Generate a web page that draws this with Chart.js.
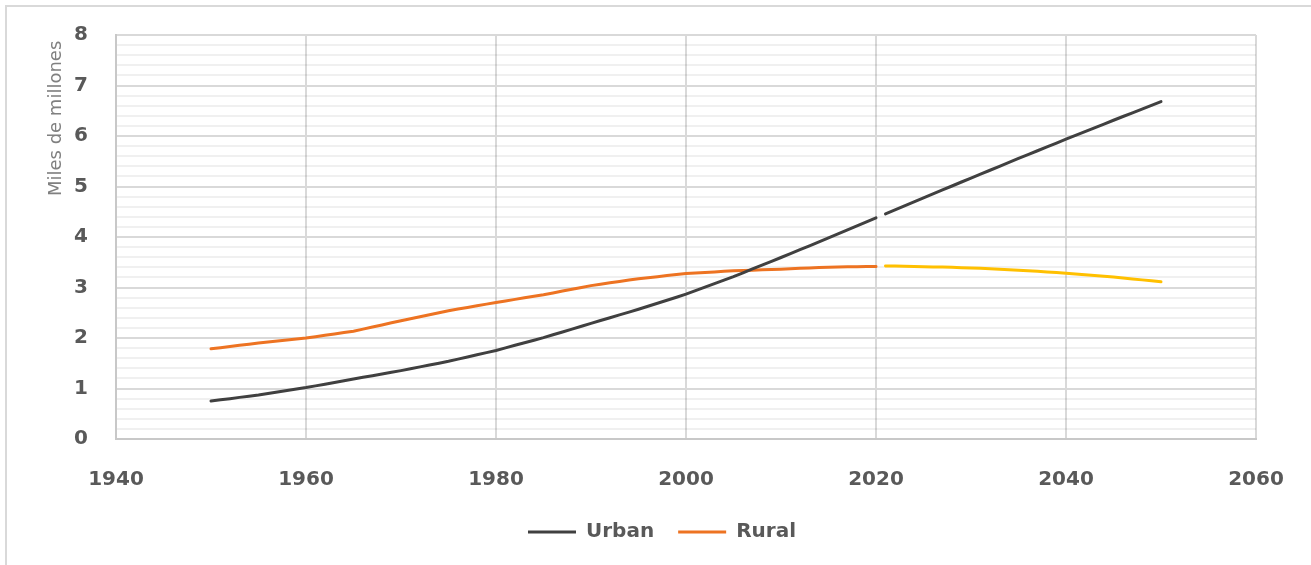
<!DOCTYPE html>
<html>
<head>
<meta charset="utf-8">
<script src="https://cdn.jsdelivr.net/npm/chart.js@4/dist/chart.umd.min.js"></script>
<style>
  body { margin: 0; background: #fff; }
  #wrap { position: relative; width: 1311px; height: 565px; overflow: hidden; }
  #frame { position: absolute; left: 5px; top: 5px; width: 1310px; height: 600px;
           border: 2px solid #d9d9d9; box-sizing: border-box; pointer-events: none; }
</style>
</head>
<body>
<div id="wrap">
  <canvas id="chart" width="1311" height="565"></canvas>
  <div id="frame"></div>
</div>
<script>
// ─── DATA (miles de millones) ──────────────────────────────
const histYears = [
  1950,1951,1952,1953,1954,1955,1956,1957,1958,1959,
  1960,1961,1962,1963,1964,1965,1966,1967,1968,1969,
  1970,1971,1972,1973,1974,1975,1976,1977,1978,1979,
  1980,1981,1982,1983,1984,1985,1986,1987,1988,1989,
  1990,1991,1992,1993,1994,1995,1996,1997,1998,1999,
  2000,2001,2002,2003,2004,2005,2006,2007,2008,2009,
  2010,2011,2012,2013,2014,2015,2016,2017,2018,2019,
  2020
];
const projYears = [
  2021,2022,2023,2024,2025,2026,2027,2028,2029,2030,
  2031,2032,2033,2034,2035,2036,2037,2038,2039,2040,
  2041,2042,2043,2044,2045,2046,2047,2048,2049,2050
];
const urbanHist = [
  0.751,0.775,0.799,0.824,0.848,0.872,0.901,0.930,0.959,0.989,
  1.018,1.052,1.086,1.120,1.154,1.188,1.221,1.254,1.287,1.320,
  1.354,1.391,1.428,1.465,1.501,1.538,1.581,1.624,1.667,1.711,
  1.754,1.805,1.855,1.906,1.956,2.007,2.064,2.120,2.177,2.233,
  2.290,2.346,2.402,2.457,2.513,2.569,2.629,2.689,2.748,2.808,
  2.868,2.937,3.007,3.076,3.146,3.215,3.291,3.367,3.442,3.518,
  3.594,3.671,3.749,3.826,3.904,3.981,4.061,4.140,4.220,4.300,
  4.379
];
const urbanProj = [
  4.458,4.537,4.616,4.695,4.774,4.853,4.932,5.010,5.089,5.167,
  5.245,5.322,5.400,5.477,5.555,5.632,5.708,5.785,5.861,5.938,
  6.013,6.088,6.162,6.237,6.312,6.386,6.459,6.533,6.606,6.680
];
const ruralHist = [
  1.785,1.808,1.831,1.855,1.878,1.901,1.921,1.940,1.960,1.979,
  1.999,2.026,2.053,2.080,2.107,2.134,2.176,2.218,2.259,2.301,
  2.343,2.383,2.422,2.462,2.501,2.541,2.574,2.606,2.639,2.671,
  2.704,2.734,2.765,2.795,2.826,2.856,2.892,2.929,2.965,3.001,
  3.037,3.065,3.092,3.120,3.147,3.175,3.195,3.215,3.236,3.256,
  3.276,3.287,3.298,3.309,3.320,3.331,3.337,3.344,3.350,3.357,
  3.363,3.371,3.379,3.386,3.394,3.402,3.406,3.410,3.413,3.415,
  3.416
];
const ruralProj = [
  3.428,3.424,3.420,3.416,3.412,3.408,3.404,3.399,3.393,3.387,
  3.379,3.371,3.362,3.353,3.343,3.332,3.321,3.309,3.296,3.283,
  3.269,3.254,3.239,3.223,3.206,3.188,3.170,3.151,3.132,3.112
];

const TEXT  = '#595959';
const FONT  = "'DejaVu Sans', sans-serif";
const pts   = (xs, ys) => xs.map((x, i) => ({ x, y: ys[i] }));
const isInt = v => Math.abs(v - Math.round(v)) < 1e-6;

// legend sits a bit right of the canvas centre in the original
const legendShift = {
  id: 'legendShift',
  afterInit(chart) {
    const lg = chart.legend;
    if (!lg) return;
    const draw = lg.draw.bind(lg);
    lg.draw = area => {
      chart.ctx.save();
      chart.ctx.translate(11, 0);
      draw(area);
      chart.ctx.restore();
    };
  },
};

// ─── CHART ─────────────────────────────────────────────────
// invisible tick marks keep the label gap without padding the plot edges
new Chart(document.getElementById('chart'), {
  type: 'line',
  data: {
    datasets: [
      { label: 'Urban', data: pts(histYears, urbanHist), borderColor: '#404040', backgroundColor: '#404040' },
      { label: 'Rural', data: pts(histYears, ruralHist), borderColor: '#ed7322', backgroundColor: '#ed7322' },
      { label: 'Urban proj', data: pts(projYears, urbanProj), borderColor: '#404040', backgroundColor: '#404040' },
      { label: 'Rural proj', data: pts(projYears, ruralProj), borderColor: '#ffc000', backgroundColor: '#ffc000' },
    ].map(d => ({ ...d, borderWidth: 3, pointRadius: 0, tension: 0, borderCapStyle: 'round' })),
  },
  plugins: [legendShift],
  options: {
    responsive: false,
    animation: false,
    layout: { padding: { left: 46, right: 55, top: 35, bottom: 13 } },
    plugins: {
      tooltip: { enabled: false },
      legend: {
        position: 'bottom',
        labels: {
          filter: item => item.datasetIndex < 2,
          usePointStyle: true,
          pointStyle: 'line',
          pointStyleWidth: 48,
          padding: 24,
          color: TEXT,
          font: { family: FONT, size: 20, weight: 'bold' },
        },
      },
    },
    scales: {
      x: {
        type: 'linear',
        min: 1940, max: 2060,
        afterFit: s => { s.height += 2; },
        ticks: {
          stepSize: 20, padding: 4, color: TEXT,
          font: { family: FONT, size: 20, weight: 'bold' },
          callback: v => String(v),
        },
        grid: { color: '#d9d9d9', lineWidth: 2, drawTicks: true, tickLength: 25, tickColor: 'rgba(0,0,0,0)' },
        border: { color: '#c8c8c8', width: 2 },
      },
      y: {
        min: 0, max: 8,
        afterFit: s => { s.width = 70; },
        ticks: {
          stepSize: 0.2,
          autoSkip: false,
          padding: 4,
          color: TEXT,
          font: { family: FONT, size: 20, weight: 'bold' },
          callback: v => isInt(v) ? Math.round(v) : '',
        },
        grid: {
          drawTicks: true,
          tickLength: 24,
          tickColor: 'rgba(0,0,0,0)',
          lineWidth: 2,
          color: ctx => isInt(ctx.tick.value) ? '#d9d9d9' : 'rgba(0,0,0,0.06)',
        },
        border: { color: '#c8c8c8', width: 2 },
        title: {
          display: true,
          text: 'Miles de millones ',
          align: 'end',
          color: '#808080',
          padding: { top: 0, bottom: 0 },
          font: { family: FONT, size: 18 },
        },
      },
    },
  },
});
</script>
</body>
</html>
